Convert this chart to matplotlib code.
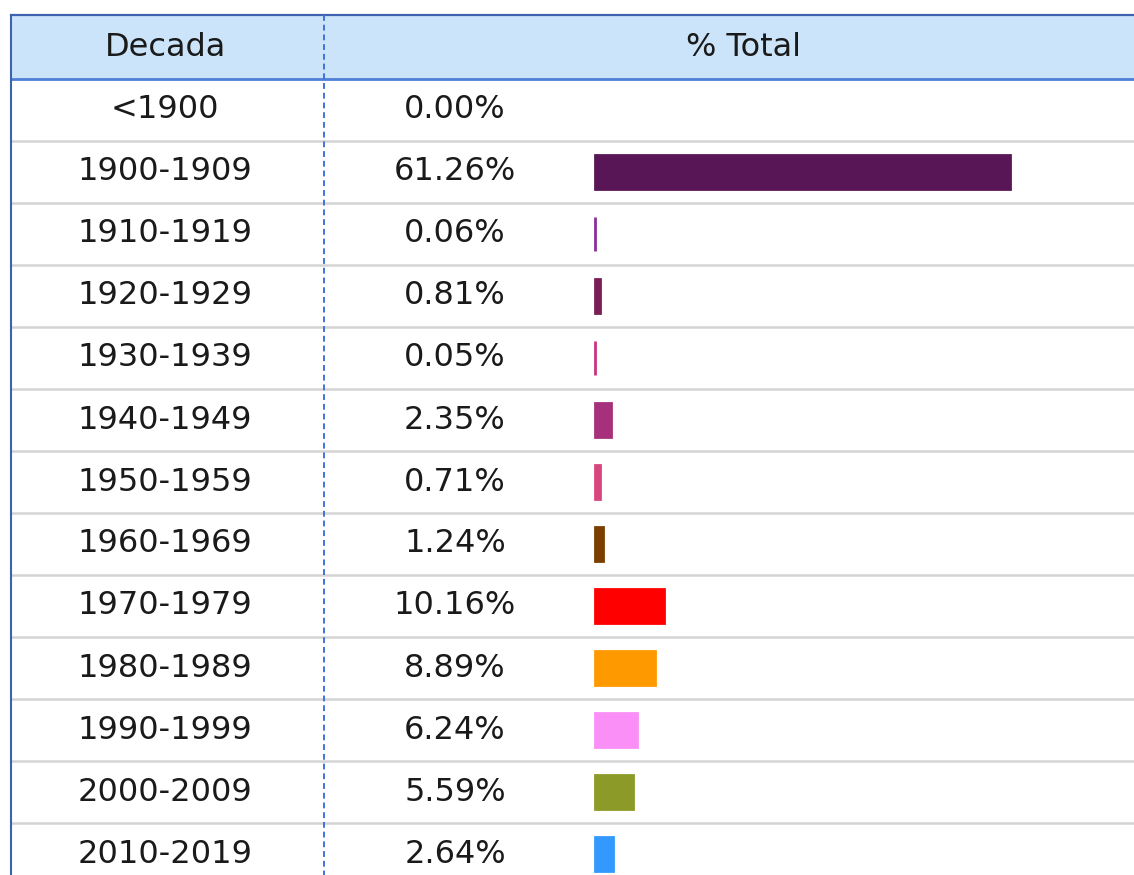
import matplotlib
matplotlib.use("Agg")
import matplotlib.pyplot as plt
from matplotlib.patches import Rectangle
from matplotlib.transforms import blended_transform_factory

# ------------- data -----------------
decades = ["<1900", "1900-1909", "1910-1919", "1920-1929", "1930-1939",
           "1940-1949", "1950-1959", "1960-1969", "1970-1979", "1980-1989",
           "1990-1999", "2000-2009", "2010-2019"]
pct_total = [0.00, 61.26, 0.06, 0.81, 0.05, 2.35, 0.71, 1.24,
             10.16, 8.89, 6.24, 5.59, 2.64]
bar_colors = ["#581656", "#581656", "#8B2F9A", "#7A1F55", "#C8357E",
              "#A6307C", "#D8467F", "#7A3F00", "#FF0000", "#FF9900",
              "#F98FF7", "#8C9A28", "#3399FF"]
col_headers = ["Decada", "% Total"]

# ------------- layout -----------------
W, H = 1134, 875
row_px = 62.0      # row pitch in pixels
y0_px = 110.0      # centre of first data row
x0_px = 595.0      # where bars start
px_per_pct = 6.775

fig = plt.figure(figsize=(W / 100, H / 100), dpi=100)
ax = fig.add_axes([0, 0, 1, 1])
ax.axis("off")
ax.set_xlim(-x0_px / px_per_pct, (W - x0_px) / px_per_pct)
ax.set_ylim((H - y0_px) / row_px, -y0_px / row_px)

tx = blended_transform_factory(ax.transAxes, ax.transData)
x_left = 11 / W
x_div = 324 / W
x_dec = 165 / W
x_pct = 455 / W
x_hdr2 = 744 / W
y_top = -1.53
y_hdr_bot = -0.5
y_bottom = ax.get_ylim()[0]

# header band
ax.add_patch(Rectangle((x_left, y_top), 1 - x_left, y_hdr_bot - y_top,
                       transform=tx, facecolor="#CCE4FA", edgecolor="none", zorder=0))
ax.plot([x_left, 1], [y_top, y_top], transform=tx, color="#3E62AE", lw=1.6, zorder=3)
ax.plot([x_left, 1], [y_hdr_bot, y_hdr_bot], transform=tx, color="#4F7FD6", lw=2.0, zorder=3)

# row separators
for i in range(len(decades) - 1):
    ax.plot([x_left, 1], [i + 0.5, i + 0.5], transform=tx, color="#D4D4D4", lw=1.8, zorder=1)

# left border and dashed divider
ax.plot([x_left, x_left], [y_top, y_bottom], transform=tx, color="#3E62AE", lw=1.5, zorder=3)
ax.plot([x_div, x_div], [y_top, y_bottom], transform=tx, color="#3F74D8", lw=1.4,
        linestyle=(0, (3, 2)), zorder=3)

# header text
txt_kw = dict(transform=tx, ha="center", va="center", fontsize=23,
              color="#1a1a1a", family="DejaVu Sans")
ax.text(x_dec, -1.0, col_headers[0], **txt_kw)
ax.text(x_hdr2, -1.0, col_headers[1], **txt_kw)

# bars (thin edge keeps the tiny shares visible)
rows = list(range(len(decades)))
widths = [2.0 if v > 0 else 0 for v in pct_total]
ax.barh(rows, pct_total, left=0, height=0.55, color=bar_colors,
        edgecolor=bar_colors, linewidth=widths, zorder=2)

# cell text
for i, (d, v) in enumerate(zip(decades, pct_total)):
    ax.text(x_dec, i, d, **txt_kw)
    ax.text(x_pct, i, f"{v:.2f}%", **txt_kw)

fig.savefig("out.png", dpi=100)
